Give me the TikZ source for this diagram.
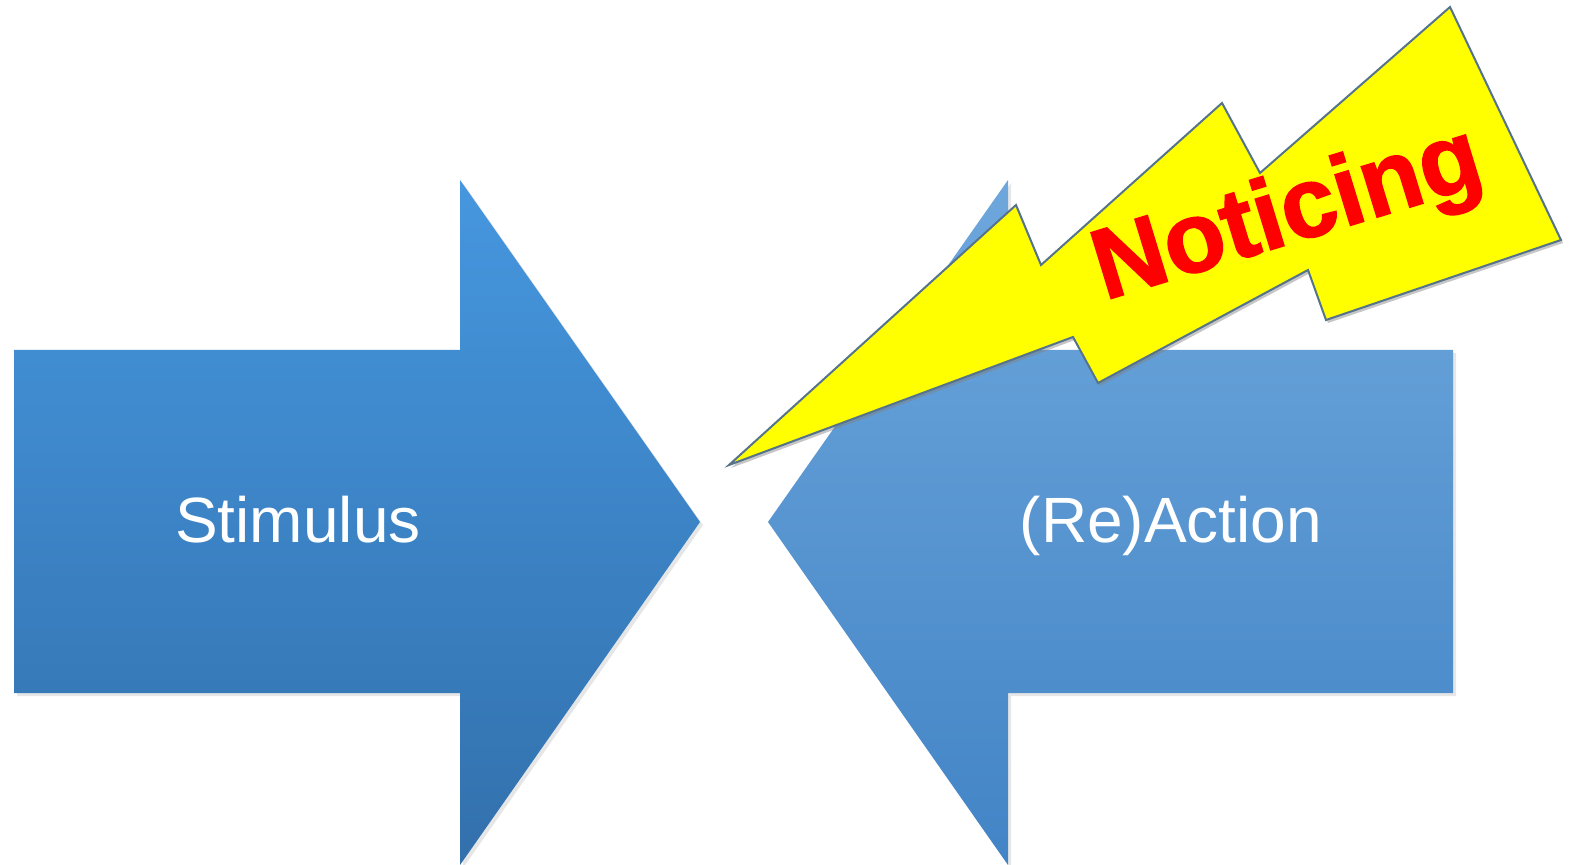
\documentclass[tikz,border=0pt]{standalone}
\usepackage{fontspec}
\setsansfont{Liberation Sans}
\newfontfamily\heavyfont[FakeBold=1.6]{Liberation Sans Bold}
\usepackage{tikz}
\usetikzlibrary{shadows}

\definecolor{stimtop}{HTML}{4697DF}
\definecolor{stimbot}{HTML}{3270AC}
\definecolor{reacttop}{HTML}{6EA7DC}
\definecolor{reactbot}{HTML}{4284C6}
\definecolor{boltfill}{HTML}{FFFF00}
\definecolor{boltedge}{HTML}{55738A}

\begin{document}
\begin{tikzpicture}[x=0.5pt, y=-0.5pt,
  bigarrow/.style={draw=none, drop shadow={opacity=0.2, shadow xshift=1.5pt, shadow yshift=-1.5pt}},
  arrowtext/.style={font=\sffamily\fontsize{32}{32}\selectfont, text=white, anchor=base},
  boltshape/.style={fill=boltfill, draw=boltedge, line width=1pt, line join=miter,
    drop shadow={opacity=0.45, shadow xshift=1pt, shadow yshift=-1.5pt}}]
  \useasboundingbox (0,0) rectangle (1569,865);

  % the two opposing arrows
  \path[bigarrow, top color=stimtop, bottom color=stimbot]
    (14,350) -- (460,350) -- (460,180) -- (700,522) -- (460,865) -- (460,693) -- (14,693) -- cycle;
  \path[bigarrow, top color=reacttop, bottom color=reactbot]
    (1453,350) -- (1008,350) -- (1008,180) -- (768,522) -- (1008,865) -- (1008,693) -- (1453,693) -- cycle;

  \node[arrowtext] (stim) at (298,543) {Stimulus};
  \node[arrowtext] (react) at (1171,543) {(Re)Action};

  % lightning bolt
  \path[boltshape]
    (729,465) -- (1016,205) -- (1041,265) -- (1222,103) -- (1260,173) -- (1450,7)
    -- (1561,240) -- (1326,320) -- (1308,270) -- (1098,383) -- (1073,337) -- cycle;
  \node[font=\heavyfont\fontsize{50}{50}\selectfont, text=red, rotate=17, anchor=base]
    (notice) at (1296,242) {Noticing};
\end{tikzpicture}
\end{document}
